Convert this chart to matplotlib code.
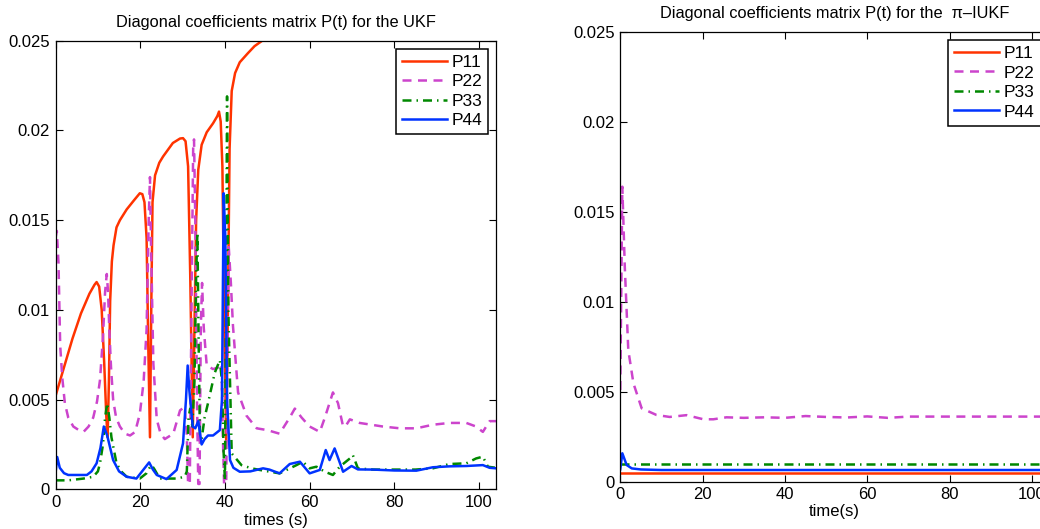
import matplotlib
matplotlib.use("Agg")
import matplotlib.pyplot as plt
from matplotlib.ticker import FixedLocator, FuncFormatter

plt.rcParams["font.family"] = ["Liberation Sans", "DejaVu Sans"]

# ---- UKF (left panel) ----
ukf_t11 = [0, 2, 4, 6, 8, 9.2, 9.7, 10.3, 10.9, 11.5, 12.0, 12.3, 12.6, 12.9, 13.3, 13.7,
           14.4, 15.2, 16.8, 18.5, 19.9, 20.5, 21.0, 21.5, 21.9, 22.3, 22.6, 22.9, 23.5,
           24.5, 25.4, 27.7, 29.4, 30.1, 30.7, 31.3, 31.8, 32.4, 32.8, 33.2, 33.7, 34.5,
           35.7, 37.2, 38.2, 38.6, 39.0, 39.4, 39.8, 40.3, 40.7, 41.1, 41.6, 42.4, 43.5,
           45.4, 47.0, 49.4, 52]
ukf_p11 = [0.0052, 0.0068, 0.0084, 0.0098, 0.0109, 0.0114, 0.01155, 0.0113, 0.0100, 0.0070,
           0.0040, 0.0029, 0.0060, 0.0105, 0.0127, 0.0136, 0.0146, 0.0150, 0.0156, 0.0161,
           0.0165, 0.01645, 0.0160, 0.0140, 0.0080, 0.0029, 0.0100, 0.0160, 0.0175, 0.0182,
           0.01855, 0.0193, 0.01955, 0.01957, 0.0194, 0.0180, 0.0120, 0.0029, 0.0090, 0.0150,
           0.0178, 0.0192, 0.0199, 0.0204, 0.0208, 0.02105, 0.0205, 0.0180, 0.0100, 0.0027,
           0.0100, 0.0190, 0.0222, 0.0232, 0.0238, 0.0243, 0.0247, 0.0251, 0.0258]

ukf_t22 = [0, 0.3, 0.7, 1.1, 1.6, 2.2, 3.0, 4.2, 5.5, 6.6, 7.8, 8.9, 9.8, 10.5, 11.2, 11.7,
           12.1, 12.4, 12.7, 13.1, 13.6, 14.3, 15.2, 16.4, 17.6, 18.8, 19.9, 20.8, 21.5,
           22.0, 22.3, 22.6, 23.1, 23.9, 24.8, 25.8, 27.8, 29.4, 30.5, 31.0, 31.3, 31.7,
           32.1, 32.5, 32.7, 33.0, 33.4, 33.7, 34.0, 34.3, 34.6, 35.0, 35.7, 37.2, 38.5,
           39.2, 39.5, 39.8, 40.3, 40.6, 40.9, 41.4, 41.9, 43.1, 45.1, 47.5, 50, 52.9, 55.3,
           56.5, 58.1, 60, 62.4, 63.6, 65.5, 66.7, 67.9, 68.7, 69.5, 71.8, 77.3, 81.3, 85.2,
           89.1, 93, 97, 99.3, 100.9, 102.5, 104]
ukf_p22 = [0.0140, 0.0144, 0.0126, 0.0080, 0.0062, 0.0048, 0.0040, 0.0035, 0.0033, 0.0032,
           0.0035, 0.0040, 0.0049, 0.0061, 0.0085, 0.0110, 0.0120, 0.0110, 0.0089, 0.0068,
           0.0050, 0.0040, 0.0035, 0.0031, 0.0030, 0.0032, 0.0042, 0.0060, 0.0089, 0.0150,
           0.0174, 0.0130, 0.0070, 0.0039, 0.0031, 0.0028, 0.0031, 0.0044, 0.0046, 0.0030,
           0.0003, 0.0003, 0.0100, 0.0190, 0.0195, 0.0150, 0.0050, 0.0003, 0.0003, 0.0090,
           0.0115, 0.0090, 0.0069, 0.0067, 0.0068, 0.0070, 0.0030, 0.0003, 0.0003, 0.0080,
           0.0135, 0.0115, 0.0091, 0.0054, 0.0041, 0.0034, 0.0033, 0.0031, 0.0040, 0.0045,
           0.0040, 0.0035, 0.0032, 0.0040, 0.0054, 0.0048, 0.0035, 0.0036, 0.0039, 0.0037,
           0.0035, 0.0034, 0.0034, 0.0036, 0.0037, 0.0037, 0.0035, 0.0032, 0.0038, 0.0038]

ukf_t33 = [0, 3, 6.6, 8.9, 10.0, 10.5, 11.2, 11.7, 12.2, 12.7, 13.2, 14.4, 15.5, 16.8, 19.9,
           21.5, 22.2, 22.7, 23.4, 24.6, 28.6, 30.5, 31.0, 31.4, 31.8, 32.3, 32.8, 33.2,
           33.5, 33.8, 34.1, 34.5, 35.2, 36.0, 37.6, 38.8, 39.3, 39.7, 40.0, 40.3, 40.5,
           40.8, 41.6, 43.9, 46.3, 48.2, 52.9, 56.9, 58.4, 60, 61.6, 63.6, 65.5, 67.1, 69.5,
           70.2, 71.4, 75, 80, 85, 89.1, 93, 97, 99.3, 100.9, 102.1, 104]
ukf_p33 = [0.0005, 0.0005, 0.0006, 0.0007, 0.0010, 0.00145, 0.0025, 0.0040, 0.0048, 0.0040,
           0.0029, 0.00145, 0.0010, 0.0007, 0.0006, 0.0009, 0.0012, 0.00135, 0.0011, 0.0006,
           0.0006, 0.0007, 0.0010, 0.0040, 0.0045, 0.0035, 0.0060, 0.0120, 0.0143, 0.0080,
           0.0030, 0.0028, 0.0040, 0.0048, 0.0065, 0.0072, 0.0060, 0.0020, 0.0005, 0.0120,
           0.0219, 0.0100, 0.0020, 0.00135, 0.00117, 0.00108, 0.00089, 0.00135, 0.00154,
           0.00117, 0.00126, 0.00098, 0.0008, 0.00126, 0.00172, 0.00191, 0.00117, 0.0011,
           0.0011, 0.0011, 0.00117, 0.00141, 0.00145, 0.00172, 0.00182, 0.00126, 0.0012]

ukf_t44 = [0, 0.4, 1.0, 2.0, 3.0, 5, 7.4, 8.5, 9.7, 10.6, 11.4, 12.2, 13.6, 15.0, 16.8, 19.1,
           20.7, 22.1, 23.0, 23.9, 26.2, 28.6, 30.1, 30.8, 31.2, 31.6, 32.4, 33.0, 33.7, 34.5,
           35.2, 36.0, 37.2, 38.8, 39.3, 39.7, 40.1, 40.5, 41.2, 42.0, 43.5, 46, 49, 50.5,
           52.9, 55.3, 57.7, 60, 62.4, 63.8, 64.7, 65.9, 67.9, 69.9, 71.4, 75, 80, 85.2, 89.1,
           93, 97, 100.9, 102.5, 104]
ukf_p44 = [0.0009, 0.0018, 0.0012, 0.0009, 0.0008, 0.0008, 0.0008, 0.0010, 0.00145, 0.0023,
           0.0035, 0.0030, 0.00163, 0.0010, 0.0007, 0.0006, 0.00108, 0.0015, 0.0011, 0.0008,
           0.00057, 0.00108, 0.00256, 0.0050, 0.0069, 0.0055, 0.0035, 0.0034, 0.0038, 0.0025,
           0.0028, 0.0030, 0.0030, 0.0033, 0.0050, 0.0165, 0.0140, 0.0050, 0.00163, 0.0012,
           0.00098, 0.0010, 0.00117, 0.0011, 0.00089, 0.00141, 0.00154, 0.00089, 0.00108,
           0.00219, 0.00163, 0.00228, 0.00098, 0.0013, 0.00111, 0.0011, 0.00105, 0.00104,
           0.00123, 0.00128, 0.0013, 0.00135, 0.0012, 0.00117]

# ---- pi-IUKF (right panel) ----
iukf_t11 = [0, 104]
iukf_p11 = [0.00047, 0.00047]

iukf_t22 = [0, 0.5, 1.1, 1.95, 3.2, 5.2, 8.8, 12, 16.1, 20.2, 22.6, 25.8, 30, 35, 40, 45,
            50, 55, 60, 65, 70, 80, 90, 100, 104]
iukf_p22 = [0.0051, 0.0164, 0.01195, 0.00732, 0.00547, 0.00408, 0.00371, 0.0036, 0.0037,
            0.00347, 0.00347, 0.00358, 0.00355, 0.00358, 0.00355, 0.00365, 0.0036, 0.00357,
            0.00363, 0.00355, 0.00362, 0.00362, 0.00362, 0.00362, 0.00362]

iukf_t33 = [0, 104]
iukf_p33 = [0.00098, 0.00098]

iukf_t44 = [0, 0.5, 1.55, 2.8, 5, 10, 104]
iukf_p44 = [0.00069, 0.00158, 0.00093, 0.00074, 0.00068, 0.00065, 0.00065]

labels = ["P11", "P22", "P33", "P44"]
colors = ["#ff3300", "#cc44cc", "#008800", "#0033ff"]
styles = ["-", (0, (3.6, 2.6)), (0, (3.6, 2.0, 0.6, 2.0)), "-"]

yticks = [0, 0.005, 0.01, 0.015, 0.02, 0.025]
xticks = [0, 20, 40, 60, 80, 100]


def style_axes(ax):
    ax.set_xlim(0, 104)
    ax.set_ylim(0, 0.025)
    ax.xaxis.set_major_locator(FixedLocator(xticks))
    ax.yaxis.set_major_locator(FixedLocator(yticks))
    ax.yaxis.set_major_formatter(FuncFormatter(lambda v, p: "%g" % v))
    ax.tick_params(direction="in", top=True, right=True, labelsize=12,
                   length=5, width=0.8, pad=4)
    for s in ax.spines.values():
        s.set_linewidth(0.9)


def draw(ax, series):
    for (t, v), lab, c, ls in zip(series, labels, colors, styles):
        ax.plot(t, v, color=c, linestyle=ls, linewidth=1.8, label=lab)
    leg = ax.legend(loc="upper right", fontsize=12.5, fancybox=False, framealpha=1,
                    edgecolor="black", handlelength=2.6, handletextpad=0.25,
                    borderpad=0.35, labelspacing=0.25, borderaxespad=0.45)
    leg.get_frame().set_linewidth(1.1)


fig = plt.figure(figsize=(10.4, 5.29), dpi=100)

ax1 = fig.add_axes([0.0534, 0.075, 0.4235, 0.848])
draw(ax1, [(ukf_t11, ukf_p11), (ukf_t22, ukf_p22), (ukf_t33, ukf_p33), (ukf_t44, ukf_p44)])
style_axes(ax1)
ax1.set_title("Diagonal coefficients matrix P(t) for the UKF", fontsize=11.8, pad=10)
ax1.set_xlabel("times (s)", fontsize=12, labelpad=2)

# right panel runs past the figure edge, as in the reference
ax2 = fig.add_axes([0.5964, 0.0894, 0.4117, 0.8501])
draw(ax2, [(iukf_t11, iukf_p11), (iukf_t22, iukf_p22), (iukf_t33, iukf_p33),
           (iukf_t44, iukf_p44)])
style_axes(ax2)
ax2.set_title("Diagonal coefficients matrix P(t) for the  \u03c0\u2013IUKF", fontsize=11.8, pad=10)
ax2.set_xlabel("time(s)", fontsize=12, labelpad=1)

fig.savefig("out.png", dpi=100)
